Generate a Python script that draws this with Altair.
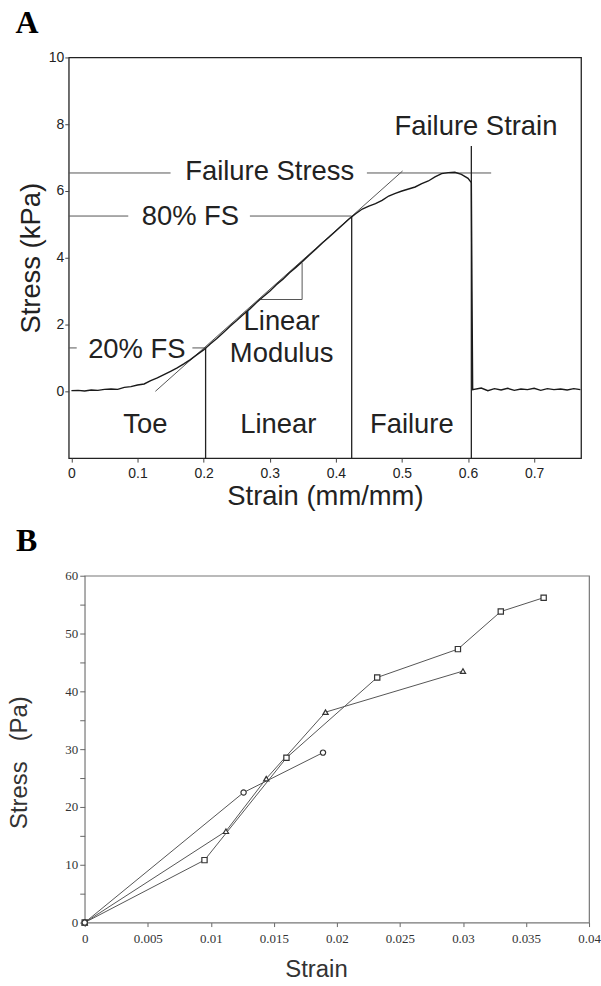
import altair as alt
import pandas as pd

# ---------------- Panel A data ----------------
curve_x = [0.000, 0.010, 0.020, 0.030, 0.040, 0.050, 0.060, 0.070, 0.080, 0.090,
           0.100, 0.110, 0.120, 0.130, 0.140, 0.150, 0.160, 0.170, 0.180, 0.190,
           0.200, 0.210, 0.220, 0.230, 0.240, 0.250, 0.260, 0.270, 0.280, 0.290,
           0.300, 0.310, 0.320, 0.330, 0.340, 0.350, 0.360, 0.370, 0.380, 0.390,
           0.400, 0.410, 0.420, 0.430, 0.440, 0.450, 0.460, 0.470, 0.480, 0.490,
           0.500, 0.510, 0.520, 0.530, 0.540, 0.550, 0.560, 0.570, 0.580, 0.590,
           0.600, 0.605, 0.606, 0.607, 0.620, 0.630, 0.640, 0.650, 0.660, 0.670,
           0.680, 0.690, 0.700, 0.710, 0.720, 0.730, 0.740, 0.750, 0.760, 0.770]
curve_y = [0.02, 0.03, 0.01, 0.04, 0.03, 0.06, 0.07, 0.06, 0.12, 0.14,
           0.19, 0.22, 0.32, 0.40, 0.50, 0.60, 0.70, 0.82, 0.95, 1.10,
           1.24, 1.42, 1.58, 1.76, 1.95, 2.12, 2.30, 2.47, 2.66, 2.83,
           3.00, 3.19, 3.36, 3.55, 3.72, 3.90, 4.08, 4.26, 4.45, 4.62,
           4.80, 4.98, 5.16, 5.32, 5.46, 5.55, 5.62, 5.72, 5.85, 5.93,
           6.00, 6.06, 6.12, 6.22, 6.30, 6.42, 6.52, 6.55, 6.56, 6.50,
           6.38, 6.25, 3.00, 0.05, 0.10, 0.02, 0.08, 0.04, 0.09, 0.03,
           0.07, 0.05, 0.09, 0.03, 0.08, 0.05, 0.07, 0.04, 0.08, 0.05]

# thin annotation lines (x, y) -> (x2, y2)
thin_x  = [-0.004, 0.447, -0.004, 0.270, -0.004, 0.183, 0.127, 0.286, 0.349]
thin_x2 = [0.150, 0.635, 0.086, 0.424, 0.008, 0.203, 0.501, 0.349, 0.349]
thin_y  = [6.54, 6.54, 5.25, 5.25, 1.30, 1.30, 0.00, 2.75, 2.75]
thin_y2 = [6.54, 6.54, 5.25, 5.25, 1.30, 1.30, 6.60, 2.75, 3.85]

# vertical region boundaries
vert_x  = [0.203, 0.424, 0.605]
vert_y  = [1.30, 5.25, 7.35]
vert_y2 = [-2.0, -2.0, -2.0]

ann_text = ["Failure Strain", "Failure Stress", "80% FS", "20% FS", "Linear",
            "Modulus", "Toe", "Linear", "Failure"]
ann_x = [0.612, 0.300, 0.180, 0.099, 0.318, 0.318, 0.112, 0.313, 0.515]
ann_y = [7.91, 6.57, 5.22, 1.25, 2.09, 1.13, -1.01, -1.01, -1.01]

# ---------------- Panel B data ----------------
sq_x = [0.0, 0.0095, 0.0160, 0.0232, 0.0296, 0.0330, 0.0364]
sq_y = [0.0, 10.8, 28.5, 42.4, 47.3, 53.8, 56.2]
tri_x = [0.0, 0.0112, 0.0144, 0.0191, 0.0300]
tri_y = [0.0, 15.8, 24.9, 36.4, 43.5]
cir_x = [0.0, 0.0126, 0.0189]
cir_y = [0.0, 22.5, 29.4]

SANS = "Liberation Sans"
SERIF = "Liberation Serif"
FS_A = 27.5

# ---------------- Panel A ----------------
xsA = alt.Scale(domain=[-0.004, 0.771], nice=False, zero=False)
ysA = alt.Scale(domain=[-2, 10], nice=False, zero=False)
axA_x = alt.Axis(title="Strain (mm/mm)", values=[0, 0.1, 0.2, 0.3, 0.4, 0.5, 0.6, 0.7],
                 format=".1~f", labelFont=SANS, labelFontSize=14, labelColor="#222",
                 titleFont=SANS, titleFontSize=FS_A, titleFontWeight="normal", titleColor="#222",
                 tickSize=4, labelPadding=4, titlePadding=3, domain=False, grid=False,
                 tickColor="#444")
axA_y = alt.Axis(title="Stress (kPa)", values=[0, 2, 4, 6, 8, 10],
                 labelFont=SANS, labelFontSize=14, labelColor="#222",
                 titleFont=SANS, titleFontSize=FS_A, titleFontWeight="normal", titleColor="#222",
                 tickSize=4, labelPadding=1, titlePadding=3, domain=False, grid=False,
                 tickColor="#444")

dfA = pd.DataFrame({"x": curve_x, "y": curve_y, "i": list(range(len(curve_x)))})
curve = alt.Chart(dfA).mark_line(color="#1a1a1a", strokeWidth=1.4).encode(
    x=alt.X("x:Q", scale=xsA, axis=axA_x),
    y=alt.Y("y:Q", scale=ysA, axis=axA_y),
    order="i:Q",
)

dfThin = pd.DataFrame({"x": thin_x, "x2": thin_x2, "y": thin_y, "y2": thin_y2})
thin = alt.Chart(dfThin).mark_rule(color="#555", strokeWidth=1).encode(
    x=alt.X("x:Q", scale=xsA, axis=axA_x),
    x2="x2:Q",
    y=alt.Y("y:Q", scale=ysA, axis=axA_y),
    y2="y2:Q",
)

dfVert = pd.DataFrame({"x": vert_x, "y": vert_y, "y2": vert_y2})
vert = alt.Chart(dfVert).mark_rule(color="#222", strokeWidth=1.3).encode(
    x=alt.X("x:Q", scale=xsA, axis=axA_x),
    y=alt.Y("y:Q", scale=ysA, axis=axA_y),
    y2="y2:Q",
)

dfTxt = pd.DataFrame({"t": ann_text, "x": ann_x, "y": ann_y})
txt = alt.Chart(dfTxt).mark_text(font=SANS, fontSize=FS_A, color="#222",
                                 align="center", baseline="middle").encode(
    x=alt.X("x:Q", scale=xsA, axis=axA_x),
    y=alt.Y("y:Q", scale=ysA, axis=axA_y),
    text="t:N",
)

chartA = alt.layer(thin, vert, curve, txt).properties(
    width=514, height=402,
    title=alt.TitleParams("A", anchor="start", frame="bounds", font=SERIF, fontSize=32,
                          fontWeight="bold", color="black", dx=-2, offset=11),
    view=alt.ViewBackground(stroke="#222", strokeWidth=1.3),
)

# ---------------- Panel B ----------------
xsB = alt.Scale(domain=[0, 0.04], nice=False, zero=False)
ysB = alt.Scale(domain=[0, 60], nice=False, zero=False)
axB_x = alt.Axis(title="Strain", values=[0, 0.005, 0.01, 0.015, 0.02, 0.025, 0.03, 0.035, 0.04],
                 format=".3~f", labelFont=SERIF, labelFontSize=13, labelColor="#333",
                 labelFlush=False, labelOverlap=False,
                 titleFont=SANS, titleFontSize=24, titleFontWeight="normal", titleColor="#333",
                 titleX=232, titleAlign="center",
                 tickSize=4, labelPadding=6, titlePadding=12, domain=False, grid=False,
                 tickColor="#666")
axB_y = alt.Axis(title="Stress\u00a0\u00a0\u00a0(Pa)", values=list(range(0, 61, 5)),
                 labelExpr="datum.value % 10 == 0 ? datum.label : ''",
                 labelFont=SERIF, labelFontSize=13, labelColor="#333",
                 titleFont=SANS, titleFontSize=24, titleFontWeight="normal", titleColor="#333",
                 titleY=187, titleAlign="center",
                 tickSize=5, labelPadding=2, titlePadding=33, domain=False, grid=False,
                 tickColor="#666")

dfB = pd.concat([
    pd.DataFrame({"x": sq_x, "y": sq_y, "s": "square", "i": range(len(sq_x))}),
    pd.DataFrame({"x": tri_x, "y": tri_y, "s": "triangle", "i": range(len(tri_x))}),
    pd.DataFrame({"x": cir_x, "y": cir_y, "s": "circle", "i": range(len(cir_x))}),
], ignore_index=True)

baseB = alt.Chart(dfB).encode(
    x=alt.X("x:Q", scale=xsB, axis=axB_x),
    y=alt.Y("y:Q", scale=ysB, axis=axB_y),
)
linesB = baseB.mark_line(color="#555", strokeWidth=1).encode(
    detail="s:N", order="i:Q")
ptsB = baseB.mark_point(filled=False, color="#333", strokeWidth=1.2, size=28,
                        fill="white", fillOpacity=1).encode(
    shape=alt.Shape("s:N", scale=alt.Scale(domain=["square", "triangle", "circle"],
                                           range=["square", "triangle-up", "circle"]),
                    legend=None))

chartB = alt.layer(linesB, ptsB).properties(
    width=506, height=348,
    title=alt.TitleParams("B", anchor="start", frame="bounds", font=SERIF, fontSize=32,
                          fontWeight="bold", color="black", dx=8, offset=12),
    view=alt.ViewBackground(stroke="#777", strokeWidth=1.2),
)

# tiny invisible spacer so panel B's plot area sits a little right of panel A's
spacer = alt.Chart(pd.DataFrame({"a": [0]})).mark_point(opacity=0).encode(
    x=alt.X("a:Q", axis=None), y=alt.Y("a:Q", axis=None)
).properties(width=1, height=1, view=alt.ViewBackground(stroke="transparent"))

rowB = alt.hconcat(spacer, chartB, spacing=15, bounds="flush")

chart = alt.vconcat(chartA, rowB, spacing=12).properties(
    padding={"left": 7, "top": 4, "right": 0, "bottom": 0},
    background="white",
).configure_view(stroke="#222")

chart.save("out.html", embed_options={"renderer": "svg", "actions": False})
